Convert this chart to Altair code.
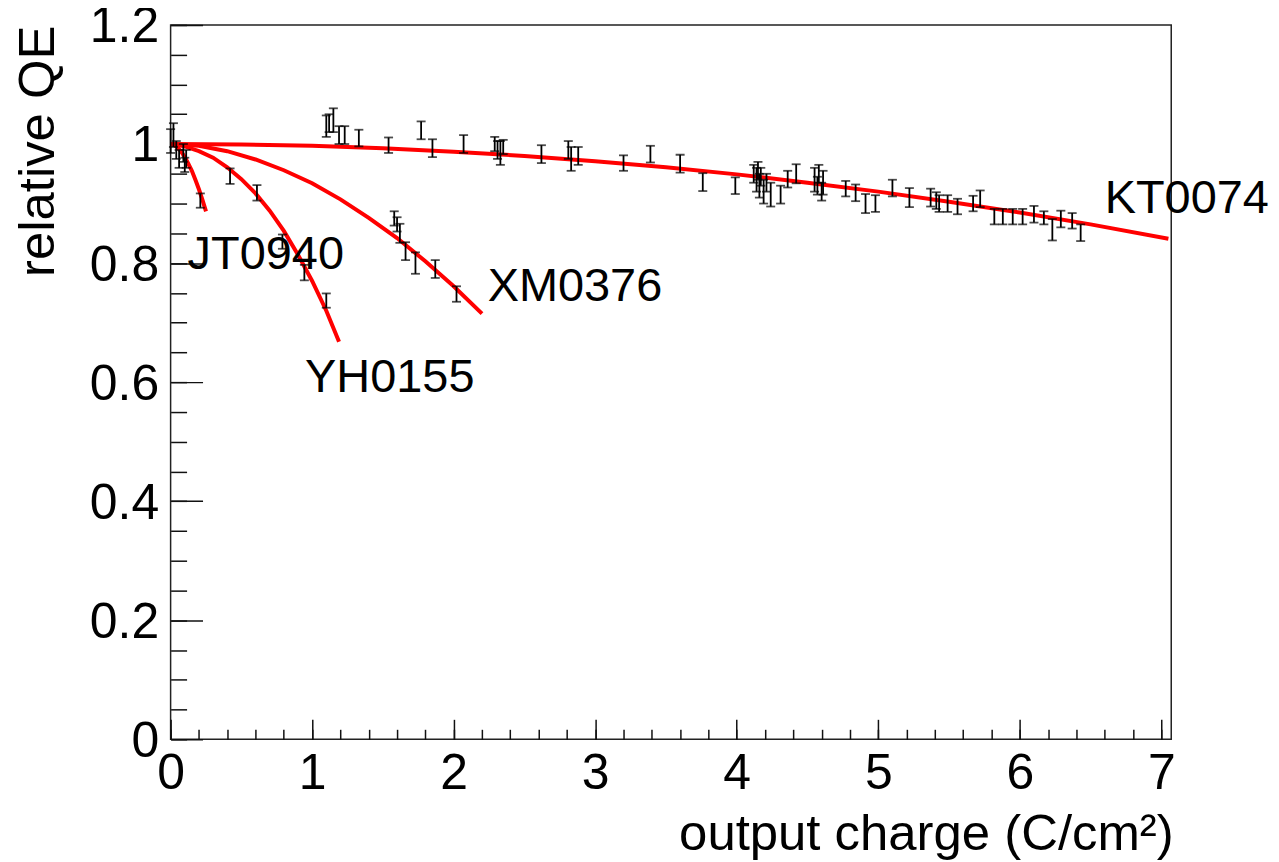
import altair as alt
import pandas as pd

FONT = "Liberation Sans"

# ---- fitted curves ----
kt_fit_x = [0, 0.5, 1, 1.5, 2, 2.5, 3, 3.5, 4, 4.5, 5, 5.5, 6, 6.5, 7.05]
kt_fit_y = [1.000, 0.999, 0.997, 0.993, 0.987, 0.980, 0.971, 0.961, 0.949, 0.935, 0.920, 0.903, 0.885, 0.865, 0.841]

jt_fit_x = [0, 0.025, 0.05, 0.075, 0.1, 0.125, 0.15, 0.175, 0.2, 0.225, 0.25]
jt_fit_y = [1.000, 0.998, 0.994, 0.987, 0.978, 0.967, 0.955, 0.940, 0.924, 0.906, 0.887]

yh_fit_x = [0, 0.1, 0.2, 0.3, 0.4, 0.5, 0.6, 0.7, 0.8, 0.9, 1.0, 1.1, 1.19]
yh_fit_y = [1.000, 0.996, 0.988, 0.977, 0.961, 0.941, 0.917, 0.888, 0.854, 0.814, 0.770, 0.720, 0.668]

xm_fit_x = [0, 0.2, 0.4, 0.6, 0.8, 1.0, 1.2, 1.4, 1.6, 1.8, 2.0, 2.2]
xm_fit_y = [1.000, 0.997, 0.988, 0.974, 0.956, 0.934, 0.907, 0.876, 0.842, 0.803, 0.761, 0.715]

# ---- measured points with errors ----
kt_x = [0.0, 0.02, 0.04, 0.06, 0.09, 0.11,
        1.10, 1.12, 1.15, 1.19, 1.23, 1.33, 1.54, 1.77, 1.85, 2.07,
        2.29, 2.31, 2.33, 2.35, 2.62, 2.81, 2.83, 2.88, 3.20, 3.39, 3.60, 3.76, 3.99,
        4.12, 4.14, 4.15, 4.16, 4.17, 4.19, 4.21, 4.24, 4.31, 4.36, 4.42,
        4.55, 4.57, 4.58, 4.60, 4.61, 4.77, 4.84, 4.91, 4.98, 5.10, 5.22,
        5.37, 5.41, 5.43, 5.49, 5.56, 5.67, 5.72, 5.82, 5.88, 5.95, 6.02,
        6.10, 6.17, 6.23, 6.29, 6.37, 6.43]
kt_y = [1.005, 1.015, 0.99, 0.975, 0.985, 0.975,
        1.030, 1.035, 1.040, 1.015, 1.015, 1.010, 0.998, 1.023, 0.993, 1.000,
        1.000, 0.990, 0.985, 0.995, 0.983, 0.990, 0.975, 0.980, 0.968, 0.983, 0.967, 0.936, 0.930,
        0.950, 0.940, 0.955, 0.930, 0.945, 0.920, 0.935, 0.915, 0.915, 0.941, 0.950,
        0.940, 0.930, 0.950, 0.920, 0.935, 0.925, 0.918, 0.900, 0.900, 0.926, 0.910,
        0.910, 0.905, 0.900, 0.900, 0.895, 0.900, 0.908, 0.878, 0.878, 0.878, 0.878,
        0.882, 0.876, 0.856, 0.874, 0.871, 0.851]
kt_err = [0.020, 0.020, 0.015, 0.015, 0.015, 0.015,
          0.018, 0.015, 0.020, 0.015, 0.015, 0.014, 0.013, 0.015, 0.015, 0.015,
          0.012, 0.015, 0.020, 0.012, 0.015, 0.015, 0.020, 0.015, 0.013, 0.014, 0.015, 0.015, 0.014,
          0.015, 0.020, 0.015, 0.020, 0.015, 0.020, 0.015, 0.020, 0.015, 0.014, 0.016,
          0.020, 0.015, 0.015, 0.015, 0.020, 0.013, 0.014, 0.016, 0.014, 0.014, 0.016,
          0.015, 0.014, 0.014, 0.014, 0.013, 0.013, 0.014, 0.013, 0.013, 0.013, 0.013,
          0.014, 0.011, 0.018, 0.014, 0.013, 0.014]

jt_x = [0.10, 0.21]
jt_y = [0.965, 0.905]
jt_err = [0.012, 0.012]

yh_x = [0.42, 0.61, 0.79, 0.945, 1.10]
yh_y = [0.946, 0.918, 0.836, 0.784, 0.737]
yh_err = [0.013, 0.013, 0.012, 0.013, 0.012]

xm_x = [1.58, 1.60, 1.62, 1.66, 1.73, 1.87, 2.02]
xm_y = [0.875, 0.865, 0.850, 0.820, 0.800, 0.790, 0.748]
xm_err = [0.012, 0.012, 0.016, 0.015, 0.018, 0.015, 0.013]

# ---- labels ----
label_text = ["JT0940", "YH0155", "XM0376", "KT0074"]
label_x = [0.12, 0.95, 2.24, 6.60]
label_y = [0.790, 0.583, 0.737, 0.884]

# ---- axis ticks ----
x_major = [0, 1, 2, 3, 4, 5, 6, 7]
x_minor = [round(i * 0.2, 2) for i in range(36)]
y_major = [0, 0.2, 0.4, 0.6, 0.8, 1.0, 1.2]
y_minor = [round(i * 0.05, 2) for i in range(25)]

# ---- build tables ----
curves = pd.concat([
    pd.DataFrame({"series": "KT0074", "x": kt_fit_x, "y": kt_fit_y}),
    pd.DataFrame({"series": "JT0940", "x": jt_fit_x, "y": jt_fit_y}),
    pd.DataFrame({"series": "YH0155", "x": yh_fit_x, "y": yh_fit_y}),
    pd.DataFrame({"series": "XM0376", "x": xm_fit_x, "y": xm_fit_y}),
], ignore_index=True)

pts = pd.concat([
    pd.DataFrame({"series": "KT0074", "x": kt_x, "y": kt_y, "e": kt_err}),
    pd.DataFrame({"series": "JT0940", "x": jt_x, "y": jt_y, "e": jt_err}),
    pd.DataFrame({"series": "YH0155", "x": yh_x, "y": yh_y, "e": yh_err}),
    pd.DataFrame({"series": "XM0376", "x": xm_x, "y": xm_y, "e": xm_err}),
], ignore_index=True)
pts["lo"] = pts["y"] - pts["e"]
pts["hi"] = pts["y"] + pts["e"]

labels = pd.DataFrame({"t": label_text, "x": label_x, "y": label_y})

W, H = 1003, 716
xs = alt.Scale(domain=[0, 7.07], nice=False, zero=False)
ys = alt.Scale(domain=[0, 1.2], nice=False, zero=False)

x_main = alt.Axis(orient="bottom", values=x_major, format="~g", labelFont=FONT, labelFontSize=50,
                  labelColor="black", labelPadding=9, labelFlush=False, labelOverlap=False,
                  ticks=False, domain=False, grid=False,
                  title="output charge (C/cm²)", titleFont=FONT, titleFontSize=51,
                  titleFontWeight="normal", titleColor="black", titleX=W + 2, titleY=110,
                  titleAlign="right", titleBaseline="alphabetic")
y_main = alt.Axis(orient="left", values=y_major, format="~g", labelFont=FONT, labelFontSize=50,
                  labelColor="black", labelPadding=12, labelOffset=2, labelFlush=False,
                  labelOverlap=False, ticks=False, domain=False, grid=False,
                  title="relative QE", titleFont=FONT, titleFontSize=51,
                  titleFontWeight="normal", titleColor="black", titleX=-117, titleY=0,
                  titleAngle=-90, titleAlign="right", titleBaseline="alphabetic")


def tick_axis(orient, vals, size):
    return alt.Axis(orient=orient, values=vals, offset=-size, tickSize=size, tickWidth=1.5,
                    tickColor="#111111", labels=False, domain=False, grid=False, title=None)


lines = alt.Chart(curves).mark_line(color="#ff0000", strokeWidth=4).encode(
    x=alt.X("x:Q", scale=xs, axis=x_main),
    y=alt.Y("y:Q", scale=ys, axis=y_main),
    detail="series:N",
)

rules = alt.Chart(pts).mark_rule(color="black", strokeWidth=1.8).encode(
    x=alt.X("x:Q", scale=xs, axis=tick_axis("bottom", x_major, 20)),
    y=alt.Y("lo:Q", scale=ys, axis=tick_axis("left", y_major, 32)),
    y2="hi:Q",
)

caps_lo = alt.Chart(pts).mark_tick(color="black", orient="horizontal", size=9, thickness=1.8).encode(
    x=alt.X("x:Q", scale=xs, axis=tick_axis("bottom", x_minor, 10)),
    y=alt.Y("lo:Q", scale=ys, axis=tick_axis("left", y_minor, 16)),
)

caps_hi = alt.Chart(pts).mark_tick(color="black", orient="horizontal", size=9, thickness=1.8).encode(
    x=alt.X("x:Q", scale=xs, axis=None),
    y=alt.Y("hi:Q", scale=ys, axis=None),
)

text = alt.Chart(labels).mark_text(font=FONT, fontSize=47, color="black", align="left",
                                   baseline="alphabetic").encode(
    x=alt.X("x:Q", scale=xs, axis=None),
    y=alt.Y("y:Q", scale=ys, axis=None),
    text="t:N",
)

chart = alt.layer(lines, rules, caps_lo, caps_hi, text).resolve_axis(
    x="independent", y="independent"
).properties(
    width=W, height=H,
    autosize=alt.AutoSizeParams(type="none"),
    padding={"left": 163, "top": 16, "right": 100, "bottom": 122},
    background="white",
).configure_view(stroke="#222222", strokeWidth=1.5)

chart.save("out.html", embed_options={"renderer": "svg", "actions": False})
